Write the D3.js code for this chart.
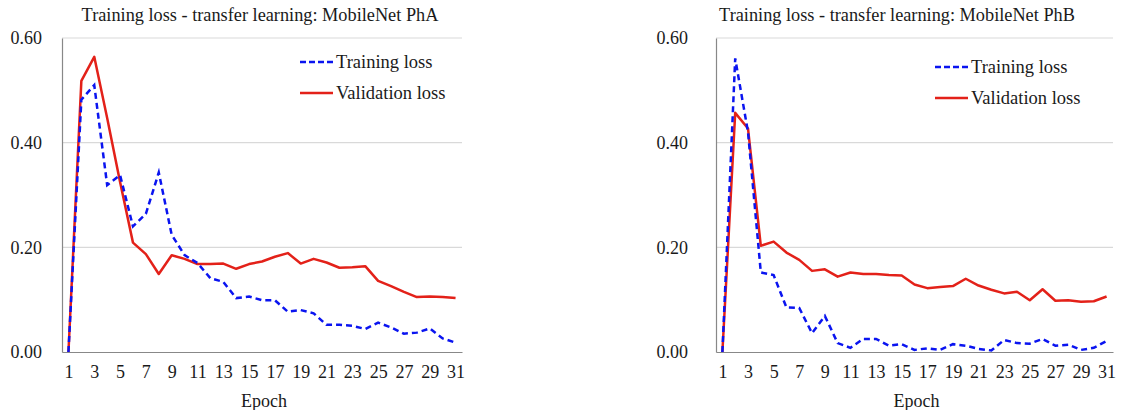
<!DOCTYPE html>
<html lang="en">
<head>
  <meta charset="UTF-8">
  <title>Training loss - transfer learning: MobileNet</title>
  <script src="https://d3js.org/d3.v7.min.js"></script>
  <style>
    body { margin: 0; background: #fff; }
    svg { display: block; }
    svg text { font-family: "Liberation Serif", "Times New Roman", serif; fill: #1a1a1a; }
  </style>
</head>
<body>
  <svg width="1123" height="410"></svg>
  <script>
    // epochs 1..31
    const epochs = d3.range(1, 32);
    const yTicks = [0, 0.2, 0.4, 0.6];
    const xTickLabels = epochs.filter(e => e % 2 === 1);

    // PhA
    const trainA = [0, 0.482, 0.51, 0.319, 0.338, 0.24, 0.264, 0.343, 0.224, 0.185,
      0.17, 0.141, 0.134, 0.103, 0.106, 0.099, 0.099, 0.077, 0.080, 0.074,
      0.052, 0.052, 0.050, 0.044, 0.056, 0.047, 0.035, 0.037, 0.045, 0.026, 0.018];
    const valA = [0, 0.518, 0.564, 0.447, 0.325, 0.209, 0.187, 0.149, 0.185, 0.178,
      0.168, 0.168, 0.169, 0.159, 0.168, 0.173, 0.182, 0.189, 0.169, 0.178,
      0.171, 0.161, 0.162, 0.164, 0.136, 0.126, 0.115, 0.105, 0.106, 0.105, 0.103];

    // PhB
    const trainB = [0, 0.561, 0.42, 0.152, 0.147, 0.085, 0.084, 0.036, 0.069, 0.017,
      0.008, 0.025, 0.025, 0.012, 0.015, 0.004, 0.007, 0.004, 0.015, 0.012,
      0.006, 0.003, 0.023, 0.017, 0.016, 0.025, 0.012, 0.014, 0.004, 0.008, 0.021];
    const valB = [0, 0.457, 0.427, 0.203, 0.211, 0.19, 0.176, 0.155, 0.158, 0.144,
      0.152, 0.149, 0.149, 0.147, 0.146, 0.129, 0.122, 0.124, 0.126, 0.140,
      0.127, 0.119, 0.112, 0.115, 0.099, 0.120, 0.098, 0.099, 0.096, 0.097, 0.106];

    const svg = d3.select("svg");

    function drawPanel(opt) {
      const x = d3.scalePoint().domain(epochs).range([opt.left, opt.right]).padding(0.5);
      const y = d3.scaleLinear().domain([0, 0.6]).range([352, 38]);
      const g = svg.append("g");

      // gridlines
      g.selectAll(".grid").data(yTicks.slice(1)).join("line")
        .attr("x1", opt.left).attr("x2", opt.right)
        .attr("y1", d => y(d)).attr("y2", d => y(d))
        .attr("stroke", "#d9d9d9").attr("stroke-width", 1.2);

      // y axis
      const ya = g.append("g").attr("transform", `translate(${opt.left},0)`)
        .call(d3.axisLeft(y).tickValues(yTicks).tickFormat(d3.format(".2f")).tickSize(0).tickPadding(opt.tickPad));
      ya.select(".domain").attr("stroke", "#888").attr("stroke-width", 1.2);
      ya.selectAll("text").attr("font-size", "18px");

      // x axis
      const xa = g.append("g").attr("transform", "translate(0,352)")
        .call(d3.axisBottom(x).tickValues(xTickLabels).tickSize(0).tickPadding(13));
      xa.select(".domain").attr("stroke", "#888").attr("stroke-width", 1.2);
      xa.selectAll("text").attr("font-size", "18px");

      g.append("text")
        .attr("x", (opt.left + opt.right) / 2 + 2).attr("y", 407)
        .attr("text-anchor", "middle").attr("font-size", "18px").text("Epoch");

      g.append("text")
        .attr("x", opt.titleX).attr("y", 21)
        .attr("text-anchor", "middle").attr("font-size", "18.3px").text(opt.title);

      const line = d3.line().x((d, i) => x(epochs[i])).y(d => y(d));

      g.append("path").datum(opt.val).attr("d", line)
        .attr("fill", "none").attr("stroke", "#e32119").attr("stroke-width", 2.5)
        .attr("stroke-linejoin", "round");
      g.append("path").datum(opt.train).attr("d", line)
        .attr("fill", "none").attr("stroke", "#0a14f0").attr("stroke-width", 2.5)
        .attr("stroke-dasharray", "6,4");

      // legend
      const lg = g.append("g").attr("transform", `translate(${opt.legX},${opt.legY})`);
      lg.append("line").attr("x1", 0).attr("x2", 33).attr("y1", 0).attr("y2", 0)
        .attr("stroke", "#0a14f0").attr("stroke-width", 2.5).attr("stroke-dasharray", "6,3");
      lg.append("text").attr("x", 36).attr("y", 6).attr("font-size", "18.5px").text("Training loss");
      lg.append("line").attr("x1", 0).attr("x2", 33).attr("y1", 31).attr("y2", 31)
        .attr("stroke", "#e32119").attr("stroke-width", 2.5);
      lg.append("text").attr("x", 36).attr("y", 37).attr("font-size", "18.5px").text("Validation loss");
    }

    drawPanel({ left: 62, right: 462, tickPad: 20, title: "Training loss - transfer learning: MobileNet PhA",
      titleX: 260, train: trainA, val: valA, legX: 300, legY: 62 });
    drawPanel({ left: 716, right: 1113, tickPad: 28, title: "Training loss - transfer learning: MobileNet PhB",
      titleX: 897, train: trainB, val: valB, legX: 935, legY: 67 });
  </script>
</body>
</html>
